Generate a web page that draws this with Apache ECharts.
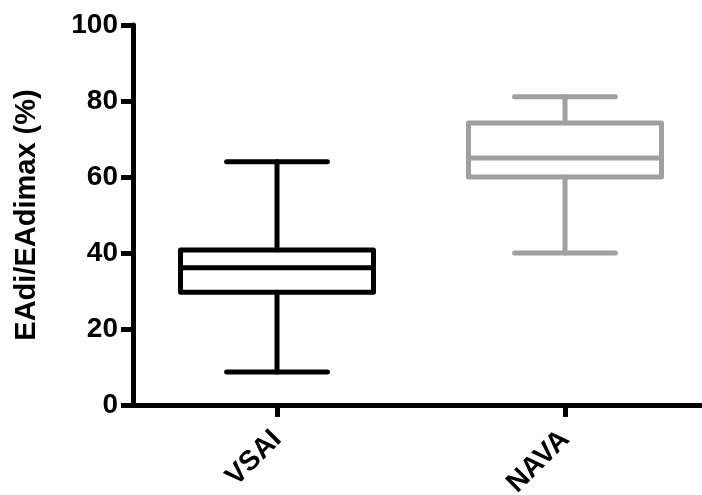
<!DOCTYPE html>
<html>
<head>
<meta charset="utf-8">
<script src="https://cdn.jsdelivr.net/npm/echarts@6/dist/echarts.min.js"></script>
<style>html,body{margin:0;padding:0;background:#fff}#c{width:702px;height:495px}</style>
</head>
<body>
<div id="c"></div>
<script>
var categories = ['VSAI', 'NAVA'];
// [min, Q1, median, Q3, max]
var vsaiStats = [8.7, 29.7, 36.1, 40.8, 64.0];
var navaStats = [40.0, 60.0, 65.0, 74.2, 81.1];
var yTicks = [0, 20, 40, 60, 80, 100];
var colors = ['#000000', '#a0a0a4'];

var boxData = [[0].concat(vsaiStats), [1].concat(navaStats)];

var chart = echarts.init(document.getElementById('c'), null, {renderer: 'canvas'});
var font = "'Liberation Sans', Arial, sans-serif";

function renderItem(params, api) {
  var cat = api.value(0);
  var mn = api.coord([cat, api.value(1)]);
  var q1 = api.coord([cat, api.value(2)]);
  var md = api.coord([cat, api.value(3)]);
  var q3 = api.coord([cat, api.value(4)]);
  var mx = api.coord([cat, api.value(5)]);
  var band = api.size([1, 0])[0];
  var hb = band * 0.67 / 2;
  var hc = band * 0.35 / 2;
  var x = mn[0];
  var col = colors[params.dataIndex];
  var st = {stroke: col, lineWidth: 5, fill: null, lineCap: 'round', lineJoin: 'round'};
  return {
    type: 'group',
    children: [
      {type: 'rect', shape: {x: x - hb, y: q3[1], width: hb * 2, height: q1[1] - q3[1]}, style: st},
      {type: 'line', shape: {x1: x - hb, y1: md[1], x2: x + hb, y2: md[1]}, style: st},
      {type: 'line', shape: {x1: x, y1: q3[1], x2: x, y2: mx[1]}, style: st},
      {type: 'line', shape: {x1: x, y1: q1[1], x2: x, y2: mn[1]}, style: st},
      {type: 'line', shape: {x1: x - hc, y1: mx[1], x2: x + hc, y2: mx[1]}, style: st},
      {type: 'line', shape: {x1: x - hc, y1: mn[1], x2: x + hc, y2: mn[1]}, style: st}
    ]
  };
}

chart.setOption({
  animation: false,
  backgroundColor: '#ffffff',
  grid: {left: 133, top: 25, width: 576, bottom: 90, containLabel: false, outerBoundsMode: 'none'},
  xAxis: {
    type: 'category',
    data: categories,
    boundaryGap: true,
    axisLine: {lineStyle: {color: '#000', width: 5}},
    axisTick: {show: true, alignWithLabel: true, length: 12, lineStyle: {width: 5, color: '#000'}},
    axisLabel: {rotate: 45, margin: 30, color: '#000', fontSize: 28, fontWeight: 'bold', fontFamily: font},
    splitLine: {show: false}
  },
  yAxis: {
    type: 'value',
    min: 0, max: 100, interval: 20,
    name: 'EAdi/EAdimax (%)',
    nameLocation: 'middle',
    nameGap: 92,
    nameTextStyle: {color: '#000', fontSize: 29, fontWeight: 'bold', fontFamily: font},
    axisLine: {show: true, lineStyle: {color: '#000', width: 5}},
    axisTick: {show: true, length: 12, lineStyle: {width: 5, color: '#000'}},
    axisLabel: {margin: 15, color: '#000', fontSize: 28, fontWeight: 'bold', fontFamily: font,
      formatter: function (v) { return yTicks.indexOf(v) >= 0 ? String(v) : ''; }},
    splitLine: {show: false}
  },
  series: [{
    type: 'custom',
    renderItem: renderItem,
    encode: {x: 0, y: [1, 2, 3, 4, 5]},
    data: boxData
  }]
});
</script>
</body>
</html>
